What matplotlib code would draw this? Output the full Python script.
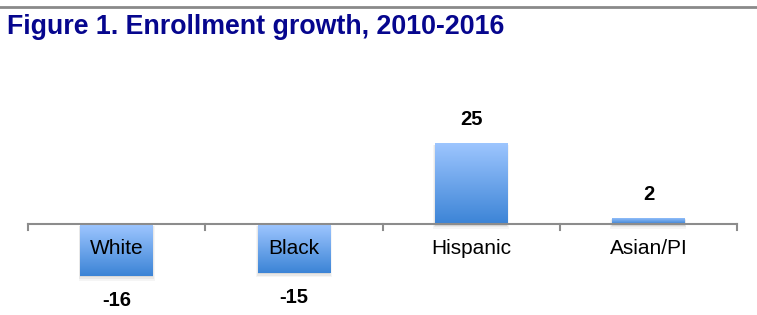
import numpy as np
import matplotlib
matplotlib.use("Agg")
import matplotlib.pyplot as plt
from matplotlib.patches import Rectangle

categories = ["White", "Black", "Hispanic", "Asian/PI"]
values = [-16, -15, 25, 2]
value_labels = ["-16", "-15", "25", "2"]
title = "Figure 1. Enrollment growth, 2010-2016"

W, H = 757, 315
fig = plt.figure(figsize=(W / 100, H / 100), dpi=100)
ax_left, ax_right = 28 / W, 737 / W
zero_y = 224  # px from top
ppu = 3.24
ymin, ymax = -27, 35
bottom = (H - zero_y - (-ymin) * ppu) / H
height = (ymax - ymin) * ppu / H
ax = fig.add_axes([ax_left, bottom, ax_right - ax_left, height])
ax.set_xlim(-0.5, len(categories) - 0.5)
ax.set_ylim(ymin, ymax)
ax.axis("off")

# gradient bars
top_c = np.array([0x9E, 0xC6, 0xFF]) / 255
bot_c = np.array([0x3C, 0x84, 0xD6]) / 255
grad = np.linspace(0, 1, 100)[:, None]
img = top_c[None, None, :] * (1 - grad[:, :, None]) + bot_c[None, None, :] * grad[:, :, None]
img = np.repeat(img, 2, axis=1)

bw = 0.41
bars = ax.bar(range(len(categories)), values, width=bw, color="none", zorder=3)
for i, (b, v) in enumerate(zip(bars, values)):
    x0 = b.get_x()
    y_top = max(v, 0)
    y_bot = min(v, 0)
    # soft shadow
    for k, a in enumerate([0.07, 0.05, 0.04]):
        off = 0.5 + k * 0.5
        sh = Rectangle((x0 - 0.005 * k, y_bot - off), bw + 0.01 * k, y_top - y_bot + off * 0.5,
                       facecolor="black", alpha=a, edgecolor="none", zorder=2)
        ax.add_patch(sh)
    im = ax.imshow(img, extent=(x0, x0 + bw, y_bot, y_top), aspect="auto", zorder=3,
                   origin="upper", interpolation="bilinear")
    im.set_clip_path(b)

# axis line and ticks
ax.plot([-0.5, len(categories) - 0.5], [0, 0], color="#8c8c8c", lw=1.5, zorder=4, clip_on=False)
tick_len = 6 / ppu
for t in np.arange(-0.5, len(categories), 1.0):
    ax.plot([t, t], [0, -tick_len], color="#8c8c8c", lw=1.5, zorder=4, clip_on=False)

# category labels
for i, c in enumerate(categories):
    ax.text(i, -24 / ppu, c, ha="center", va="center", fontsize=15,
            family="Liberation Sans", color="black", zorder=5)

# value labels
for i, (v, lab) in enumerate(zip(values, value_labels)):
    yy = v + (23 / ppu if v >= 0 else -25 / ppu)
    ax.text(i, yy, lab, ha="center", va="center", fontsize=14.5, fontweight="bold",
            family="Liberation Sans", color="black", clip_on=False)

# top rule and title
fig.add_artist(plt.Line2D([0, 1], [1 - 6.5 / H, 1 - 6.5 / H], color="#8a8a8a", lw=2))
fig.text(7 / W, 1 - 34.5 / H, title, ha="left", va="baseline", fontsize=19.3,
         fontweight="bold", family="Liberation Sans", color="#06068E")

fig.savefig("out.png", dpi=100)
